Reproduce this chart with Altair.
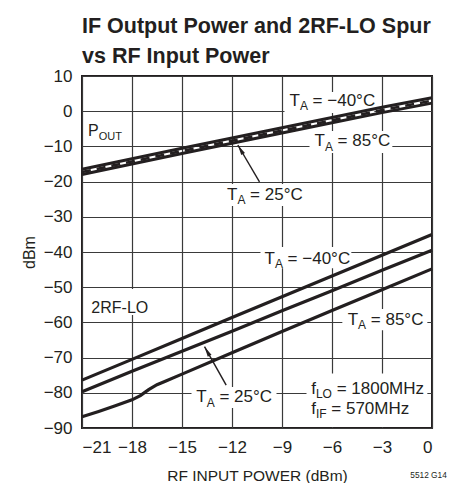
import math
import altair as alt
import pandas as pd

FONT = "Liberation Sans, Arial, Helvetica, sans-serif"
INK = "#231f20"
GRID = "#3a3a3a"

W, H = 350, 352
X_MIN, X_MAX = -21, 0
Y_MIN, Y_MAX = -90, 10

# ---------------- data ----------------
x_ticks = [-21, -18, -15, -12, -9, -6, -3, 0]
y_ticks = [-90, -80, -70, -60, -50, -40, -30, -20, -10, 0, 10]

pout_x = [-21, -18, -15, -12, -9, -6, -3, 0]
pout_m40 = [-16.5, -13.5, -10.5, -7.6, -4.7, -1.8, 1.1, 3.8]
pout_25 = [-17.3, -14.3, -11.3, -8.4, -5.5, -2.6, 0.3, 3.0]
pout_85 = [-18.0, -15.0, -12.0, -9.1, -6.2, -3.3, -0.4, 2.3]

spur_x = [-21, -18, -15, -12, -9, -6, -3, 0]
spur_m40 = [-76.4, -70.5, -64.6, -58.6, -52.7, -46.8, -40.9, -35.0]
spur_25 = [-79.7, -73.9, -68.2, -62.5, -56.7, -51.0, -45.2, -39.5]
spur85_x = [-21, -20, -19, -18, -17.5, -17, -16.5, -16, -15, -12, -9, -6, -3, 0]
spur_85 = [-86.8, -85.3, -83.7, -82.0, -80.8, -79.1, -77.7, -76.7, -74.7,
           -68.6, -62.6, -56.6, -50.7, -44.8]

# annotation anchors (data units, baseline-left), font size, pieces
# piece kind: "m" main text, "s" subscript, "g" gap (a space, not drawn)
annotations = [
    (-8.55, 1.45, 17, [("T", "m"), ("A", "s"), (" ", "g"), ("= \u221240\u00b0C", "m")]),
    (-7.05, -10.0, 17, [("T", "m"), ("A", "s"), (" ", "g"), ("= 85\u00b0C", "m")]),
    (-12.3, -25.1, 17, [("T", "m"), ("A", "s"), (" ", "g"), ("= 25\u00b0C", "m")]),
    (-10.05, -43.4, 17, [("T", "m"), ("A", "s"), (" ", "g"), ("= \u221240\u00b0C", "m")]),
    (-5.06, -60.7, 17, [("T", "m"), ("A", "s"), (" ", "g"), ("= 85\u00b0C", "m")]),
    (-14.14, -82.7, 17, [("T", "m"), ("A", "s"), (" ", "g"), ("= 25\u00b0C", "m")]),
    (-7.25, -80.3, 17, [("f", "m"), ("LO", "s"), (" ", "g"), ("= 1800MHz", "m")]),
    (-7.25, -86.0, 17, [("f", "m"), ("IF", "s"), (" ", "g"), ("= 570MHz", "m")]),
    (-20.44, -57.2, 16, [("2RF-LO", "m")]),
    (-20.64, -6.96, 16, [("P", "m"), ("OUT", "s")]),
]

# white knock-out boxes behind the labels (data units)
box_x1 = [-8.85, -7.35, -12.51, -10.29, -5.38, -14.43, -7.53, -20.66]
box_x2 = [-3.46, -2.38, -7.90, -4.84, -0.28, -9.33, -0.28, -16.94]
box_y1 = [5.45, -5.6, -20.7, -38.6, -56.2, -78.35, -74.5, -50.5]
box_y2 = [-0.51, -11.9, -26.9, -44.6, -62.2, -84.3, -89.7, -57.9]

# arrows: tail -> tip
arrow_tail_x = [-10.35, -12.35]
arrow_tail_y = [-20.1, -77.8]
arrow_tip_x = [-11.65, -13.65]
arrow_tip_y = [-9.6, -66.9]

# ---------------- helpers ----------------
SUB_RATIO = 0.7
EM = {"T": 0.611, "P": 0.667, "f": 0.278, "A": 0.667, "L": 0.556, "O": 0.778,
      "I": 0.278, "F": 0.611, "U": 0.722, " ": 0.278}


def text_width(s, size):
    return sum(EM.get(c, 0.556) for c in s) * size


px_x = (X_MAX - X_MIN) / W
px_y = (Y_MAX - Y_MIN) / H

rows_by_size = {}
for bx, by, size, pieces in annotations:
    off = 0.0
    sub_size = round(size * SUB_RATIO)
    for txt, kind in pieces:
        if kind == "m":
            rows_by_size.setdefault(size, []).append(
                {"x": bx + off * px_x, "y": by, "t": txt})
            off += text_width(txt, size)
        elif kind == "s":
            rows_by_size.setdefault(sub_size, []).append(
                {"x": bx + off * px_x, "y": by - 4.3 * px_y, "t": txt})
            off += text_width(txt, sub_size)
        else:
            off += text_width(txt, size)

lines = []
for name, xs, ys in [("pout_m40", pout_x, pout_m40), ("pout_85", pout_x, pout_85)]:
    for a, b in zip(xs, ys):
        lines.append({"series": name, "x": a, "y": b})
solid_pout = pd.DataFrame(lines)
dash_pout = pd.DataFrame({"series": "pout_25", "x": pout_x, "y": pout_25})

rows = []
for name, xs, ys in [("spur_m40", spur_x, spur_m40), ("spur_25", spur_x, spur_25),
                     ("spur_85", spur85_x, spur_85)]:
    for a, b in zip(xs, ys):
        rows.append({"series": name, "x": a, "y": b})
spur_df = pd.DataFrame(rows)

box_df = pd.DataFrame({"x": box_x1, "x2": box_x2, "y": box_y1, "y2": box_y2})

angles = []
for tx, ty, hx, hy in zip(arrow_tail_x, arrow_tail_y, arrow_tip_x, arrow_tip_y):
    dxp = (hx - tx) / px_x
    dyp = -(hy - ty) / px_y
    angles.append((math.degrees(math.atan2(dxp, -dyp)) + 360) % 360)
arrow_df = pd.DataFrame({"x": arrow_tail_x, "y": arrow_tail_y,
                         "x2": arrow_tip_x, "y2": arrow_tip_y})
head_df = pd.DataFrame({"x": arrow_tip_x, "y": arrow_tip_y, "ang": angles})

note_df = pd.DataFrame({"x": [-1.3], "y": [-104.2], "t": ["5512 G14"]})

# ---------------- encodings ----------------
x_enc = alt.X("x:Q", scale=alt.Scale(domain=[X_MIN, X_MAX], nice=False, zero=False),
              axis=alt.Axis(values=x_ticks, title="RF INPUT POWER (dBm)", format="d"))
y_enc = alt.Y("y:Q", scale=alt.Scale(domain=[Y_MIN, Y_MAX], nice=False, zero=False),
              axis=alt.Axis(values=y_ticks, title="dBm", format="d"))

boxes = alt.Chart(box_df).mark_rect(fill="white").encode(
    x=x_enc, x2="x2:Q", y=y_enc, y2="y2:Q")

pout_solid = alt.Chart(solid_pout).mark_line(color=INK, strokeWidth=3).encode(
    x=x_enc, y=y_enc, detail="series:N")
pout_dash = alt.Chart(dash_pout).mark_line(color=INK, strokeWidth=2.6,
                                           strokeDash=[9, 6]).encode(x=x_enc, y=y_enc)
spur = alt.Chart(spur_df).mark_line(color=INK, strokeWidth=3.2).encode(
    x=x_enc, y=y_enc, detail="series:N")

arrows = alt.Chart(arrow_df).mark_rule(color=INK, strokeWidth=1.4).encode(
    x=x_enc, y=y_enc, x2="x2:Q", y2="y2:Q")
heads = alt.Chart(head_df).mark_point(
    shape="M0,0 L0.45,2.2 L-0.45,2.2 Z", filled=True, color=INK, opacity=1, size=90
).encode(x=x_enc, y=y_enc, angle=alt.Angle("ang:Q", scale=None))

text_layers = []
for size, rws in sorted(rows_by_size.items()):
    text_layers.append(
        alt.Chart(pd.DataFrame(rws)).mark_text(
            align="left", baseline="alphabetic", font=FONT, fontSize=size, color=INK
        ).encode(x=x_enc, y=y_enc, text="t:N"))

note = alt.Chart(note_df).mark_text(
    align="left", baseline="alphabetic", font=FONT, fontSize=8.3, color=INK
).encode(x=x_enc, y=y_enc, text="t:N")

chart = alt.layer(boxes, pout_solid, pout_dash, spur, arrows, heads,
                  *text_layers, note).properties(
    width=W, height=H,
    autosize="none",
    padding={"left": 74, "top": 68, "right": 18, "bottom": 55},
    title=alt.Title(["IF Output Power and 2RF-LO Spur", "vs RF Input Power"],
                    anchor="start", frame="group", font=FONT, fontSize=21.5,
                    fontWeight="bold", lineHeight=30, offset=0, color=INK),
).configure_view(stroke=INK, strokeWidth=2).configure_axis(
    grid=True, gridColor=GRID, gridWidth=1.2, domain=False, ticks=False,
    labelFont=FONT, labelFontSize=17, labelColor=INK,
    titleFont=FONT, titleFontSize=16, titleFontWeight="normal", titleColor=INK,
).configure_axisX(labelPadding=11, titlePadding=13, titleFontSize=15.5).configure_axisY(
    labelPadding=10, titlePadding=6)

chart.save("out.html", embed_options={"renderer": "svg", "actions": False})
